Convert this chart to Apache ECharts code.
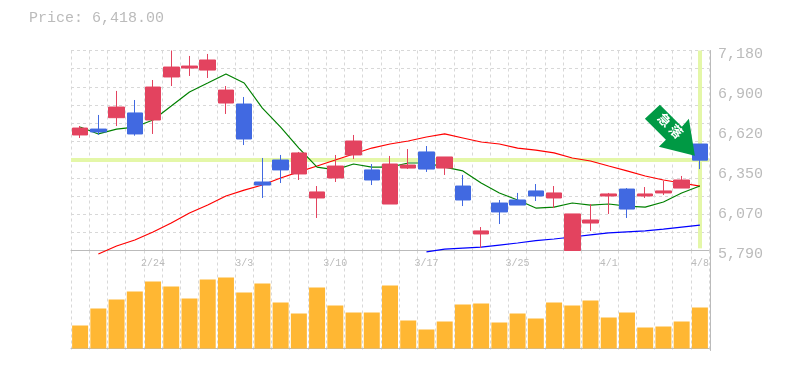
<!DOCTYPE html>
<html><head><meta charset="utf-8">
<style>html,body{margin:0;padding:0;background:#fff}#c{width:785px;height:370px}</style>
<script src="https://cdn.jsdelivr.net/npm/echarts@6/dist/echarts.min.js"></script>
</head><body><div id="c"></div>
<script>
const dates = ['2/18','2/19','2/20','2/21','2/24','2/25','2/26','2/27','2/28','3/3','3/4','3/5','3/6','3/7','3/10','3/11','3/12','3/13','3/14','3/17','3/18','3/19','3/21','3/24','3/25','3/26','3/27','3/28','3/31','4/1','4/2','4/3','4/4','4/7','4/8'];
const dateTicks = ['2/24','3/3','3/10','3/17','3/25','4/1','4/8'];
const priceTicks = ['5,790','6,070','6,350','6,620','6,900','7,180'];
const opens  = [6593,6634,6713,6746,6697,6996,7058,7044,6815,6808,6266,6419,6322,6155,6294,6454,6350,6113,6363,6475,6363,6238,5905,6120,6141,6204,6155,5790,5981,6169,6217,6169,6190,6224,6530];
const closes = [6641,6614,6787,6600,6926,7065,7072,7114,6905,6565,6245,6350,6468,6197,6377,6551,6280,6391,6384,6356,6440,6141,5926,6058,6106,6169,6190,6044,6002,6183,6078,6183,6204,6280,6418];
const lows   = [6572,6593,6655,6588,6600,6933,7003,6989,6739,6523,6155,6259,6280,6016,6266,6426,6245,6113,6356,6336,6315,6099,5807,5974,6106,6134,6085,5790,5926,6044,6016,6155,6176,6224,6356];
const highs  = [6655,6732,6899,6836,6975,7180,7142,7156,6933,6857,6433,6454,6475,6238,6454,6593,6391,6447,6495,6516,6440,6315,5953,6141,6190,6252,6238,6044,6113,6190,6224,6231,6273,6308,6530];
const maShort = [6648,6600,6634,6648,6697,6794,6892,6954,7017,6954,6780,6648,6502,6370,6350,6391,6370,6370,6398,6398,6370,6343,6259,6190,6141,6085,6092,6120,6106,6113,6099,6092,6127,6190,6238];
const maMid = [null,5766,5821,5863,5919,5981,6051,6106,6169,6210,6245,6294,6336,6377,6419,6461,6502,6530,6551,6579,6600,6572,6544,6530,6502,6488,6468,6433,6412,6377,6343,6308,6280,6259,6238];
const maLong = [null,null,null,null,null,null,null,null,null,null,null,null,null,null,null,null,null,null,null,5780,5800,5807,5814,5828,5842,5858,5870,5884,5898,5912,5919,5926,5939,5953,5967];
const volumes = [23,40,49,57,67,62,50,69,71,56,65,46,35,61,43,36,36,63,28,19,27,44,45,26,35,30,46,43,48,31,36,21,22,27,41];
const lastPrice = 6418;
const priceMin = 5790, priceMax = 7180;

const GRAY = '#bbbbbb', GRID = '#d8d8d8', HILITE = '#e4f7a8', RED = '#e3435f', BLUE = '#4169e1';
const MONO = '"Liberation Mono","DejaVu Sans Mono",monospace';
const chart = echarts.init(document.getElementById('c'));
const split = {show:true, interval:0, lineStyle:{color:GRID, type:[3,3], width:1}};
const maLine = (data,color) => ({type:'line', data, xAxisIndex:0, yAxisIndex:0, symbol:'none', clip:false, z:3, silent:true,
  connectNulls:false, lineStyle:{color, width:1.2}});
chart.setOption({
  animation:false,
  backgroundColor:'#fff',
  title:{text:'Price: 6,418.00', left:24, top:6, textStyle:{fontFamily:MONO, fontSize:15, fontWeight:'normal', color:GRAY}},
  grid:[{left:71, top:50.5, width:638, height:200},{left:71, top:250.5, width:638, height:100}],
  xAxis:[
    {type:'category', gridIndex:0, data:dates, boundaryGap:true, axisTick:{show:false},
     axisLine:{lineStyle:{color:GRAY,width:1}}, splitLine:split,
     axisLabel:{interval:(i,v)=>dateTicks.includes(v), margin:8, fontFamily:MONO, fontSize:10, color:GRAY, showMinLabel:true, showMaxLabel:true}},
    {type:'category', gridIndex:1, data:dates, boundaryGap:true, axisTick:{show:false}, axisLabel:{show:false},
     axisLine:{lineStyle:{color:GRAY,width:1}}, splitLine:split}
  ],
  yAxis:[
    {type:'value', gridIndex:0, position:'right', offset:1, min:priceMin, max:priceMax, interval:(priceMax-priceMin)/5, scale:true,
     axisLine:{show:true,lineStyle:{color:GRAY,width:1}}, axisTick:{show:false}, splitLine:{show:false},
     axisLabel:{margin:8, fontFamily:MONO, fontSize:15, color:GRAY, verticalAlign:'top', padding:[-4,0,0,0], formatter:(v,i)=>priceTicks[i]}},
    {type:'value', gridIndex:0, position:'left', min:0, max:11, interval:1, axisLine:{show:false}, axisTick:{show:false}, axisLabel:{show:false}, splitLine:{show:true,lineStyle:{color:GRID,type:[3,3],width:1}}},
    {type:'value', gridIndex:1, position:'right', offset:1, min:-2, max:98, axisLine:{show:true,lineStyle:{color:GRAY,width:1}}, axisTick:{show:false}, axisLabel:{show:false}, splitLine:{show:false}}
  ],
  series:[
    {type:'line', data:[], xAxisIndex:0, yAxisIndex:0, z:2, silent:true,
     markLine:{silent:true, z:2, symbol:'none', animation:false, label:{show:false},
       data:[
         [{yAxis:lastPrice, x:71},{yAxis:lastPrice, x:709}],
         [{xAxis:dates[34], yAxis:priceMax},{xAxis:dates[34], yAxis:5805}]
       ],
       lineStyle:{color:HILITE, width:4, type:'solid', opacity:1}}},
    maLine(maLong,'#0000ff'),
    maLine(maMid,'#ff0000'),
    maLine(maShort,'#008000'),
    {type:'candlestick', xAxisIndex:0, yAxisIndex:0, z:5, barWidth:16, clip:true,
     data:dates.map((d,i)=>[opens[i],closes[i],lows[i],highs[i]]),
     itemStyle:{color:RED,color0:BLUE,borderColor:RED,borderColor0:BLUE,borderWidth:1},
     markPoint:{silent:true, z:8, animation:false,
       data:[{coord:[dates[34],lastPrice], symbol:'path://M15 0L0 14L21 35L14 42L50 51L44 14L37 22Z', symbolSize:[50,51], symbolOffset:[-30,-30],
         itemStyle:{color:'#009944'},
         label:{show:true, position:'inside', formatter:'急\u2005落', rotate:-45, offset:[-3,-3.5], color:'#fff', fontSize:13, fontWeight:'bold', fontFamily:'"Noto Sans CJK JP"'}}]}},
    {type:'bar', xAxisIndex:1, yAxisIndex:2, data:volumes, barWidth:16, itemStyle:{color:'#ffb733'}, z:3}
  ]
});
</script></body></html>
